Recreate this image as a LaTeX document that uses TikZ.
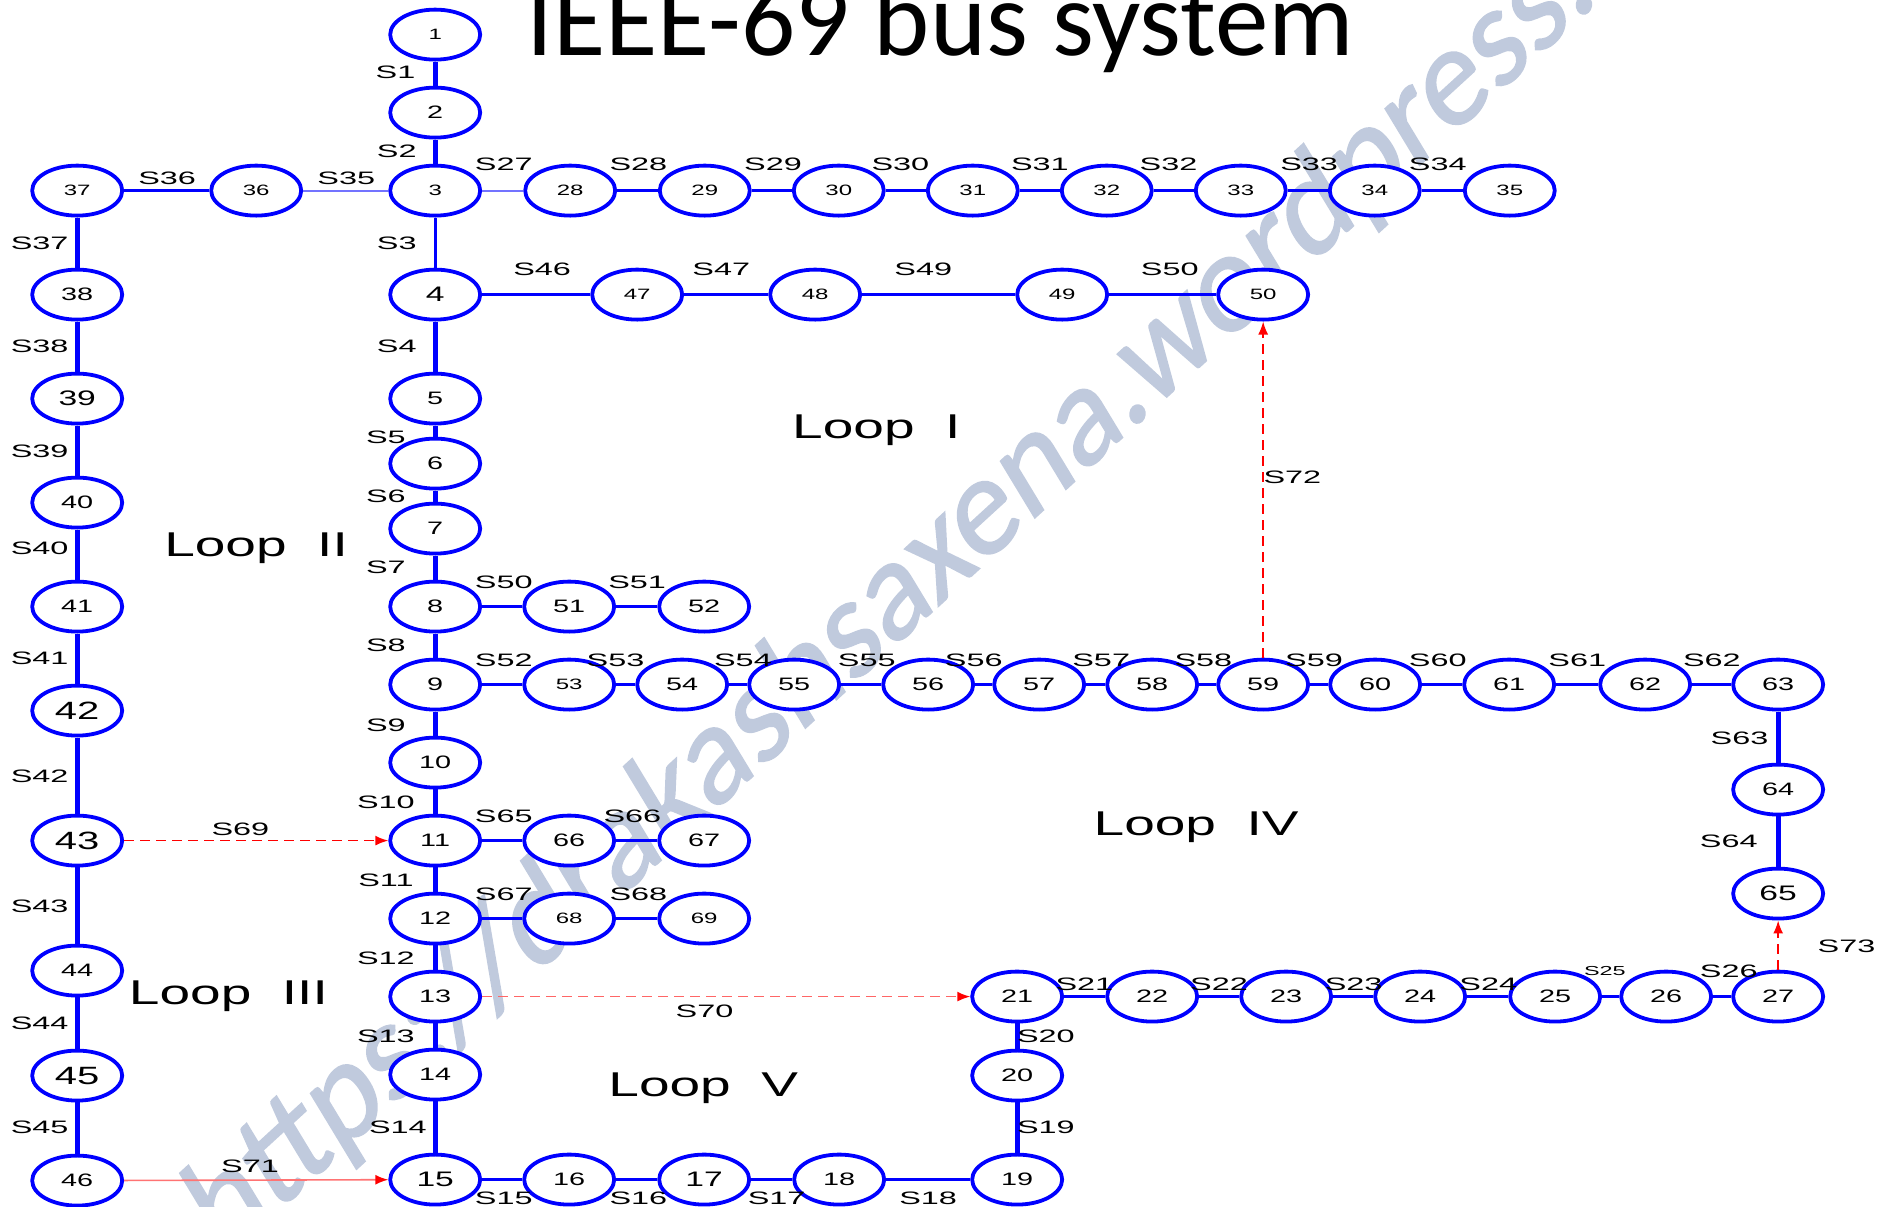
\documentclass[tikz,border=0pt]{standalone}
\usepackage{fontspec}
\usepackage{tikz}
\usetikzlibrary{arrows.meta,positioning,shapes.geometric}
\newfontfamily\wideFont[FakeStretch=1.6]{Liberation Sans}
\newfontfamily\labelFont[FakeStretch=1.8]{Liberation Sans}
\newfontfamily\titleFont{Carlito}
\newfontfamily\markFont[FakeSlant=0.2,FakeBold=1.2]{Carlito}
\definecolor{cbus}{RGB}{0,0,255}
\definecolor{cmark}{RGB}{192,202,221}
\newcommand{\fs}[1]{\wideFont\fontsize{#1}{#1}\selectfont}
\newcommand{\fl}[1]{\labelFont\fontsize{#1}{#1}\selectfont}

\begin{document}
\begin{tikzpicture}[x=0.6011pt,y=-0.6011pt,on grid,
  >={Latex[length=6.5pt,width=5pt]},
  bus/.style={draw=cbus,fill=white,ellipse,line width=1.9pt,inner sep=0pt,
              minimum width=45pt,minimum height=25pt},
  busS/.style={bus,font=\fs{7.5}},
  busM/.style={bus,font=\fs{9}},
  busL/.style={bus,font=\fs{10.5}},
  busX/.style={bus,font=\fs{12.5}},
  vwire/.style={draw=cbus,line width=2.4pt},
  hwire/.style={draw=cbus,line width=1.6pt},
  lwire/.style={draw=cbus!55,line width=0.9pt},
  tie/.style={draw=red,line width=0.8pt,->,dash pattern=on 5pt off 3pt},
  sw/.style={font=\fl{9},inner sep=0pt},
  looplab/.style={font=\fs{17.2},inner sep=0pt}]
\useasboundingbox (0,0) rectangle (1568,1004);
\clip (0,0) rectangle (1568,1004);
% watermark and title
\node (mark) [anchor=base west,rotate=42.5,text=cmark,inner sep=0pt,
      font=\markFont\fontsize{68}{68}\selectfont] at (185,1050)
      {https://drakashsaxena.wordpress.com};
\node (title) [anchor=base,inner sep=0pt,font=\titleFont\fontsize{53.5}{55}\selectfont]
      at (782,46) {IEEE-69 bus system};
% main feeder
\node (b1) [busS] at (362,28.8) {1};
\node (b2) [busM,below=39pt of b1] {2};
\node (b3) [busS,below=39pt of b2] {3};
\node (b4) [busL,below=52pt of b3] {4};
\node (b5) [busM,below=52pt of b4] {5};
\node (b6) [busM,below=32.5pt of b5] {6};
\node (b7) [busM,below=32.5pt of b6] {7};
\node (b8) [busM,below=39pt of b7] {8};
\node (b9) [busM,below=39pt of b8] {9};
\node (b10) [busM,below=39pt of b9] {10};
\node (b11) [busM,below=39pt of b10] {11};
\node (b12) [busM,below=39pt of b11] {12};
\node (b13) [busM,below=39pt of b12] {13};
\node (b14) [busM,below=39pt of b13] {14};
\node (b15) [busL,below=52.5pt of b14] {15};
\node (b16) [busM,right=67pt of b15] {16};
\node (b17) [busL,right=67.5pt of b16] {17};
\node (b18) [busM,right=67.5pt of b17] {18};
\node (b19) [busM,right=89pt of b18] {19};
\node (b20) [busM,above=52pt of b19] {20};
\node (b21) [busM,above=39.5pt of b20] {21};
\node (b22) [busM,right=67.5pt of b21] {22};
\node (b23) [busM,right=67pt of b22] {23};
\node (b24) [busM,right=67pt of b23] {24};
\node (b25) [busM,right=67.5pt of b24] {25};
\node (b26) [busM,right=55.5pt of b25] {26};
\node (b27) [busM,right=56pt of b26] {27};
% top branch
\node (b28) [busS,right=67.5pt of b3] {28};
\node (b29) [busS,right=67.3pt of b28] {29};
\node (b30) [busS,right=67pt of b29] {30};
\node (b31) [busS,right=67pt of b30] {31};
\node (b32) [busS,right=67pt of b31] {32};
\node (b33) [busS,right=67pt of b32] {33};
\node (b34) [busS,right=67pt of b33] {34};
\node (b35) [busS,right=67.5pt of b34] {35};
% left branch
\node (b36) [busS,left=89.5pt of b3] {36};
\node (b37) [busS,left=89.5pt of b36] {37};
\node (b38) [busM,below=52pt of b37] {38};
\node (b39) [busL,below=52pt of b38] {39};
\node (b40) [busM,below=52pt of b39] {40};
\node (b41) [busM,below=52pt of b40] {41};
\node (b42) [busX,below=52pt of b41] {42};
\node (b43) [busX,below=65pt of b42] {43};
\node (b44) [busM,below=65pt of b43] {44};
\node (b45) [busX,below=52.5pt of b44] {45};
\node (b46) [busM,below=52.5pt of b45] {46};
% short laterals
\node (b47) [busS,right=101pt of b4] {47};
\node (b48) [busS,right=89pt of b47] {48};
\node (b49) [busS,right=123.5pt of b48] {49};
\node (b50) [busS,right=100.5pt of b49] {50};
\node (b51) [busM,right=67pt of b8] {51};
\node (b52) [busM,right=67.5pt of b51] {52};
\node (b53) [busS,right=67pt of b9] {53};
\node (b54) [busM,right=56.5pt of b53] {54};
\node (b55) [busM,right=56pt of b54] {55};
\node (b56) [busM,right=67pt of b55] {56};
\node (b57) [busM,right=55.5pt of b56] {57};
\node (b58) [busM,right=56.5pt of b57] {58};
\node (b59) [busM,right=55.5pt of b58] {59};
\node (b60) [busM,right=56pt of b59] {60};
\node (b61) [busM,right=67pt of b60] {61};
\node (b62) [busM,right=68pt of b61] {62};
\node (b63) [busM,right=66.5pt of b62] {63};
\node (b64) [busM,below=52.5pt of b63] {64};
\node (b65) [busL,below=52pt of b64] {65};
\node (b66) [busM,right=67pt of b11] {66};
\node (b67) [busM,right=67.5pt of b66] {67};
\node (b68) [busS,right=67pt of b12] {68};
\node (b69) [busS,right=67.5pt of b68] {69};
% vertical sections
\draw[vwire] (b1) -- (b2);   \draw[vwire] (b2) -- (b3);
\draw[draw=cbus,line width=1.5pt] (b3) -- (b4);   \draw[vwire] (b4) -- (b5);
\draw[vwire] (b5) -- (b6);   \draw[vwire] (b6) -- (b7);
\draw[vwire] (b7) -- (b8);   \draw[vwire] (b8) -- (b9);
\draw[vwire] (b9) -- (b10);  \draw[vwire] (b10) -- (b11);
\draw[vwire] (b11) -- (b12); \draw[vwire] (b12) -- (b13);
\draw[vwire] (b13) -- (b14); \draw[vwire] (b14) -- (b15);
\draw[vwire] (b19) -- (b20); \draw[vwire] (b20) -- (b21);
\draw[vwire] (b37) -- (b38); \draw[vwire] (b38) -- (b39);
\draw[vwire] (b39) -- (b40); \draw[vwire] (b40) -- (b41);
\draw[vwire] (b41) -- (b42); \draw[vwire] (b42) -- (b43);
\draw[vwire] (b43) -- (b44); \draw[vwire] (b44) -- (b45);
\draw[vwire] (b45) -- (b46);
\draw[vwire] (b63) -- (b64); \draw[vwire] (b64) -- (b65);
% horizontal sections
\draw[hwire] (b15) -- (b16); \draw[hwire] (b16) -- (b17);
\draw[hwire] (b17) -- (b18); \draw[hwire] (b18) -- (b19);
\draw[hwire] (b21) -- (b22); \draw[hwire] (b22) -- (b23);
\draw[hwire] (b23) -- (b24); \draw[hwire] (b24) -- (b25);
\draw[hwire] (b25) -- (b26); \draw[hwire] (b26) -- (b27);
\draw[lwire] (b3) -- (b28);  \draw[lwire] (b3) -- (b36);
\draw[hwire] (b28) -- (b29); \draw[hwire] (b29) -- (b30);
\draw[hwire] (b30) -- (b31); \draw[hwire] (b31) -- (b32);
\draw[hwire] (b32) -- (b33); \draw[hwire] (b33) -- (b34);
\draw[hwire] (b34) -- (b35); \draw[hwire] (b36) -- (b37);
\draw[hwire] (b4) -- (b47);  \draw[hwire] (b47) -- (b48);
\draw[hwire] (b48) -- (b49); \draw[hwire] (b49) -- (b50);
\draw[hwire] (b8) -- (b51);  \draw[hwire] (b51) -- (b52);
\draw[hwire] (b9) -- (b53);  \draw[hwire] (b53) -- (b54);
\draw[hwire] (b54) -- (b55); \draw[hwire] (b55) -- (b56);
\draw[hwire] (b56) -- (b57); \draw[hwire] (b57) -- (b58);
\draw[hwire] (b58) -- (b59); \draw[hwire] (b59) -- (b60);
\draw[hwire] (b60) -- (b61); \draw[hwire] (b61) -- (b62);
\draw[hwire] (b62) -- (b63);
\draw[hwire] (b11) -- (b66); \draw[hwire] (b66) -- (b67);
\draw[hwire] (b12) -- (b68); \draw[hwire] (b68) -- (b69);
% tie lines
\draw[tie] (b43) -- (b11);
\draw[tie,draw=red!60,-{Latex[length=6.5pt,width=5pt,red]}] (b13) -- (b21);
\draw[tie,draw=red!55,solid,-{Latex[length=6.5pt,width=5pt,red]}] (b46) -- (b15);
\draw[tie] (b59) -- (b50);
\draw[tie] (b27) -- (b65);
% section labels
\node (s1) [sw] at (329,60) {S1};
\node (s2) [sw] at (330,126) {S2};
\node (s3) [sw] at (330,202) {S3};
\node (s4) [sw] at (330,288) {S4};
\node (s5) [sw] at (321,364) {S5};
\node (s6) [sw] at (321,413) {S6};
\node (s7) [sw] at (321,472) {S7};
\node (s8) [sw] at (321,537) {S8};
\node (s9) [sw] at (321,603) {S9};
\node (s10) [sw] at (321,667) {S10};
\node (s11) [sw] at (321,732) {S11};
\node (s12) [sw] at (321,797) {S12};
\node (s13) [sw] at (321,862) {S13};
\node (s14) [sw] at (331,938) {S14};
\node (s15) [sw] at (419,997) {S15};
\node (s16) [sw] at (531,997) {S16};
\node (s17) [sw] at (646,997) {S17};
\node (s18) [sw] at (772,997) {S18};
\node (s19) [sw] at (870,938) {S19};
\node (s20) [sw] at (870,862) {S20};
\node (s21) [sw] at (902,819) {S21};
\node (s22) [sw] at (1014,819) {S22};
\node (s23) [sw] at (1126,819) {S23};
\node (s24) [sw] at (1238,819) {S24};
\node (s25) [sw,font=\fl{6.5}] at (1335,808) {S25};
\node (s26) [sw] at (1438,808) {S26};
\node (s27) [sw] at (419,137) {S27};
\node (s28) [sw] at (531,137) {S28};
\node (s29) [sw] at (643,137) {S29};
\node (s30) [sw] at (749,137) {S30};
\node (s31) [sw] at (865,137) {S31};
\node (s32) [sw] at (972,137) {S32};
\node (s33) [sw] at (1089,137) {S33};
\node (s34) [sw] at (1196,137) {S34};
\node (s35) [sw] at (288,148) {S35};
\node (s36) [sw] at (139,148) {S36};
\node (s37) [sw] at (33,202) {S37};
\node (s38) [sw] at (33,288) {S38};
\node (s39) [sw] at (33,375) {S39};
\node (s40) [sw] at (33,456) {S40};
\node (s41) [sw] at (33,548) {S41};
\node (s42) [sw] at (33,646) {S42};
\node (s43) [sw] at (33,754) {S43};
\node (s44) [sw] at (33,851) {S44};
\node (s45) [sw] at (33,938) {S45};
\node (s46) [sw] at (451,224) {S46};
\node (s47) [sw] at (600,224) {S47};
\node (s49) [sw] at (768,224) {S49};
\node (s50) [sw] at (973,224) {S50};
\node (s50b) [sw] at (419,484) {S50};
\node (s51) [sw] at (530,484) {S51};
\node (s52) [sw] at (419,549) {S52};
\node (s53) [sw] at (512,549) {S53};
\node (s54) [sw] at (618,549) {S54};
\node (s55) [sw] at (721,549) {S55};
\node (s56) [sw] at (810,549) {S56};
\node (s57) [sw] at (916,549) {S57};
\node (s58) [sw] at (1001,549) {S58};
\node (s59) [sw] at (1093,549) {S59};
\node (s60) [sw] at (1196,549) {S60};
\node (s61) [sw] at (1312,549) {S61};
\node (s62) [sw] at (1424,549) {S62};
\node (s63) [sw] at (1447,614) {S63};
\node (s64) [sw] at (1438,700) {S64};
\node (s65) [sw] at (419,679) {S65};
\node (s66) [sw] at (526,679) {S66};
\node (s67) [sw] at (419,744) {S67};
\node (s68) [sw] at (531,744) {S68};
\node (s69) [sw] at (200,690) {S69};
\node (s70) [sw] at (586,841) {S70};
\node (s71) [sw] at (208,970) {S71};
\node (s72) [sw] at (1075,397) {S72};
\node (s73) [sw] at (1536,787) {S73};
% loops
\node (loop1) [looplab] at (729,358) {Loop\ \ I};
\node (loop2) [looplab] at (213,456) {Loop\ \ II};
\node (loop3) [looplab] at (190,829) {Loop\ \ III};
\node (loop4) [looplab] at (995,688) {Loop\ \ IV};
\node (loop5) [looplab] at (585,905) {Loop\ \ V};
\end{tikzpicture}
\end{document}
